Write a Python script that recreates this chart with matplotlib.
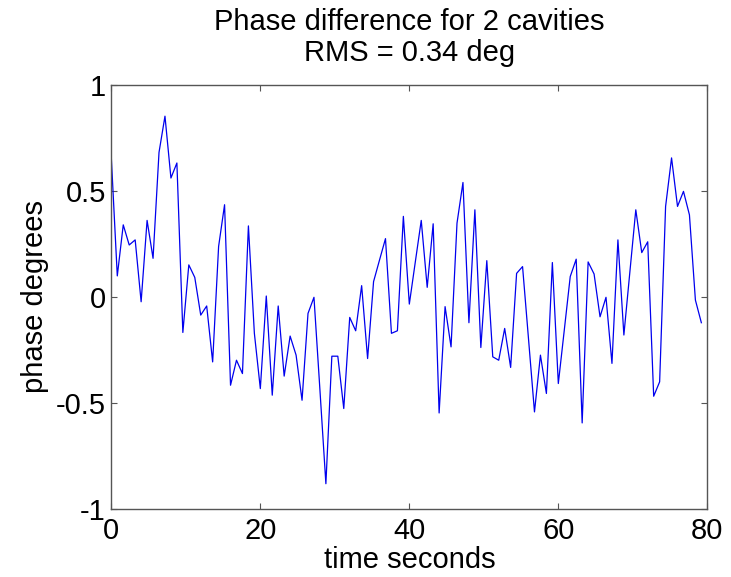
import numpy as np
import matplotlib
matplotlib.use("Agg")
import matplotlib.pyplot as plt
from matplotlib.ticker import FixedLocator, FixedFormatter

# ---- data ----
phase = [0.655, 0.098, 0.339, 0.244, 0.268, -0.024, 0.36, 0.181, 0.681, 0.852,
         0.56, 0.631, -0.169, 0.15, 0.091, -0.087, -0.044, -0.308, 0.237, 0.434,
         -0.418, -0.30, -0.363, 0.334, -0.173, -0.434, 0.003, -0.465, -0.044, -0.375,
         -0.186, -0.276, -0.489, -0.079, -0.003, -0.44, -0.883, -0.281, -0.281, -0.528,
         -0.098, -0.161, 0.052, -0.292, 0.071, 0.173, 0.274, -0.173, -0.161, 0.379,
         -0.035, 0.163, 0.36, 0.044, 0.344, -0.549, -0.047, -0.237, 0.347, 0.539,
         -0.123, 0.41, -0.24, 0.17, -0.284, -0.30, -0.15, -0.334, 0.11, 0.142,
         -0.2, -0.544, -0.276, -0.457, 0.161, -0.41, -0.158, 0.095, 0.177, -0.596,
         0.164, 0.107, -0.095, -0.003, -0.315, 0.268, -0.181, 0.115, 0.41, 0.208,
         0.259, -0.47, -0.402, 0.426, 0.655, 0.426, 0.497, 0.386, -0.016, -0.123]
sample_period = 0.8
time = np.arange(len(phase)) * sample_period

x_ticks = [0, 20, 40, 60, 80]
x_tick_labels = ["0", "20", "40", "60", "80"]
y_ticks = [-1, -0.5, 0, 0.5, 1]
y_tick_labels = ["-1", "-0.5", "0", "0.5", "1"]

title_text = "Phase difference for 2 cavities\nRMS = 0.34 deg"
x_label = "time seconds"
y_label = "phase degrees"

# ---- figure ----
plt.rcParams['font.family'] = ['Liberation Sans', 'DejaVu Sans']
fs = 21

fig = plt.figure(figsize=(7.31, 5.77), dpi=100)
ax = fig.add_axes([0.1523, 0.1187, 0.8153, 0.7343])

ax.plot(time, phase, color='#0000ee', lw=0.9)

ax.set_xlim(0, 80)
ax.set_ylim(-1, 1)
ax.xaxis.set_major_locator(FixedLocator(x_ticks))
ax.xaxis.set_major_formatter(FixedFormatter(x_tick_labels))
ax.yaxis.set_major_locator(FixedLocator(y_ticks))
ax.yaxis.set_major_formatter(FixedFormatter(y_tick_labels))

frame_color = '#555555'
for s in ax.spines.values():
    s.set_color(frame_color)
    s.set_linewidth(1.0)
ax.tick_params(direction='in', length=4.5, width=0.8, color=frame_color,
               top=True, right=True, labelsize=fs, labelcolor='black')
ax.tick_params(axis='x', pad=6)
ax.tick_params(axis='y', pad=4)

ax.set_xlabel(x_label, fontsize=fs, labelpad=1)
ax.set_ylabel(y_label, fontsize=fs, labelpad=5)
ax.set_title(title_text, fontsize=fs, pad=17, linespacing=1.15)

fig.savefig("out.png", dpi=100, facecolor='white')
